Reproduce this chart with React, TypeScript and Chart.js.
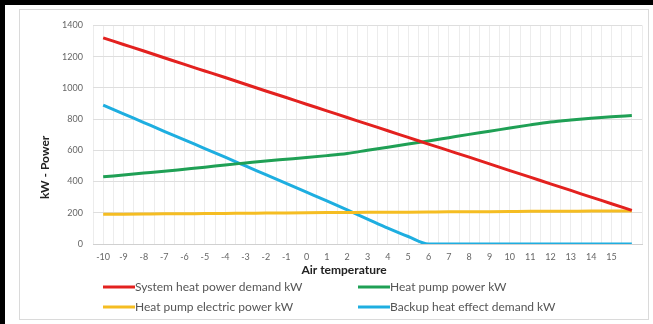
import React, { useEffect, useRef } from "react";
import { Chart, registerables } from "chart.js";

Chart.register(...registerables);

const temperatures = [-10, -9, -8, -7, -6, -5, -4, -3, -2, -1, 0, 1, 2, 3, 4, 5, 6, 7, 8, 9, 10, 11, 12, 13, 14, 15, 16];
const systemDemand = [1320, 1278, 1236, 1193, 1150, 1108, 1066, 1023, 980, 938, 895, 853, 810, 768, 725, 683, 640, 598, 556, 513, 470, 428, 385, 343, 300, 258, 215];
const heatPumpPower = [430, 442, 454, 466, 479, 492, 506, 519, 532, 543, 554, 566, 580, 600, 620, 640, 660, 681, 702, 722, 743, 763, 781, 794, 805, 815, 823];
const electricPower = [190, 191, 192, 193, 194, 195, 196, 197, 198, 199, 200, 201, 202, 203, 203, 204, 205, 206, 206, 207, 208, 209, 209, 210, 211, 211, 212];
const backupDemand = [890, 834, 778, 722, 667, 611, 556, 500, 444, 388, 332, 276, 218, 160, 102, 48, 0, 0, 0, 0, 0, 0, 0, 0, 0, 0, 0];

const seriesNames = [
  "System heat power demand kW",
  "Heat pump power kW",
  "Heat pump electric power kW",
  "Backup heat effect demand kW",
];
const seriesColors = ["#e3211f", "#1fa055", "#f5bd22", "#1eaee0"];
const seriesValues = [systemDemand, heatPumpPower, electricPower, backupDemand];

const xTitle = "Air temperature";
const yTitle = "kW - Power";

const FONT = "Lato, 'Open Sans', sans-serif";

const overlayPlugin = {
  id: "overlay",
  afterDraw(chart: any) {
    const { ctx, chartArea } = chart;
    ctx.save();
    // x title
    ctx.font = `bold 12px ${FONT}`;
    ctx.fillStyle = "#222";
    ctx.textAlign = "center";
    ctx.textBaseline = "middle";
    ctx.fillText(xTitle, chartArea.left + 251, chartArea.bottom + 26);
    // y title
    ctx.save();
    ctx.translate(25, chartArea.top + 142);
    ctx.rotate(-Math.PI / 2);
    ctx.fillText(yTitle, 0, 0);
    ctx.restore();
    // legend
    ctx.font = `12px ${FONT}`;
    ctx.textAlign = "left";
    chart.data.datasets.forEach((ds: any, i: number) => {
      const col = i % 2;
      const row = Math.floor(i / 2);
      const x = chartArea.left + 10 + col * 255;
      const y = chartArea.bottom + 43 + row * 20;
      ctx.strokeStyle = ds.borderColor;
      ctx.lineWidth = 3;
      ctx.beginPath();
      ctx.moveTo(x, y);
      ctx.lineTo(x + 32, y);
      ctx.stroke();
      ctx.fillStyle = "#555";
      ctx.fillText(ds.label, x + 32, y);
    });
    ctx.restore();
  },
};

export default function App() {
  const ref = useRef<HTMLCanvasElement>(null);
  useEffect(() => {
    if (!ref.current) return;
    const chart = new Chart(ref.current, {
      type: "line",
      data: {
        datasets: seriesNames.map((name, i) => ({
          label: name,
          data: temperatures.map((t, j) => ({ x: t, y: seriesValues[i][j] })),
          borderColor: seriesColors[i],
          backgroundColor: seriesColors[i],
          borderWidth: 3,
          pointRadius: 0,
          cubicInterpolationMode: "monotone" as const,
        })),
      },
      options: {
        animation: false,
        responsive: false,
        maintainAspectRatio: false,
        layout: { padding: { top: 12, right: 8, bottom: 46, left: 0 } },
        plugins: { legend: { display: false }, tooltip: { enabled: false } },
        scales: {
          x: {
            type: "linear",
            min: -10.5,
            max: 16.5,
            afterFit: (s: any) => { s.height = 30; },
            afterBuildTicks: (s: any) => {
              const t = [];
              for (let v = -10.5; v <= 16.5001; v += 0.5) t.push({ value: v });
              s.ticks = t;
            },
            ticks: {
              autoSkip: false,
              maxRotation: 0,
              padding: 8,
              color: "#666",
              font: { family: FONT, size: 9 },
              callback: (v: any) => (Number.isInteger(v) && v >= -10 && v <= 15 ? String(v) : ""),
            },
            grid: { color: "#ececec", drawTicks: false },
            border: { display: true, color: "#d0d0d0" },
          },
          y: {
            min: 0,
            max: 1400,
            afterFit: (s: any) => { s.width = 73; },
            ticks: {
              stepSize: 200,
              padding: 10,
              color: "#666",
              font: { family: FONT, size: 9 },
              callback: (v: any) => String(v),
            },
            grid: { color: "#dedede", drawTicks: false },
            border: { display: false },
          },
        },
      },
      plugins: [overlayPlugin],
    });
    return () => chart.destroy();
  }, []);

  return (
    <div style={{ position: "fixed", left: 0, top: 0, width: 653, height: 324, background: "#fff" }}>
      <div style={{ position: "absolute", left: 0, top: 0, width: 653, height: 5, background: "#000" }} />
      <div style={{ position: "absolute", left: 0, top: 0, width: 5, height: 324, background: "#000" }} />
      <div style={{ position: "absolute", left: 19, top: 9, width: 630, height: 311, border: "1px solid #dadada", boxSizing: "border-box" }} />
      <canvas ref={ref} width={630} height={310} style={{ position: "absolute", left: 20, top: 10, width: 630, height: 310 }} />
    </div>
  );
}
